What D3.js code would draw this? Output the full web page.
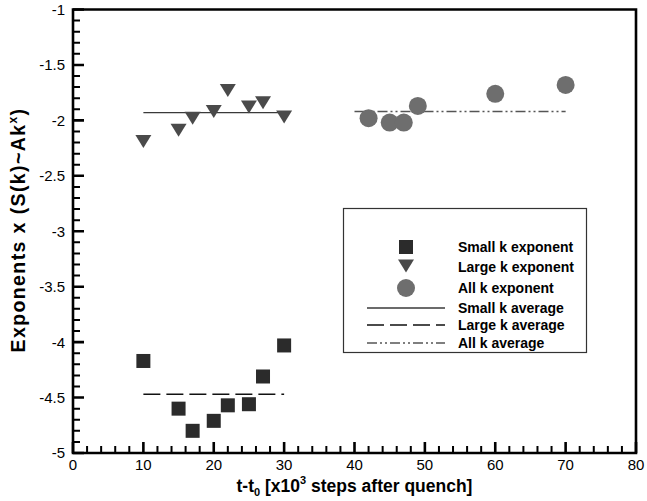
<!DOCTYPE html>
<html>
<head>
<meta charset="utf-8">
<script src="https://cdn.jsdelivr.net/npm/d3@7"></script>
<style>
  html, body { margin: 0; padding: 0; background: #fff; }
  svg { display: block; font-family: "Liberation Sans", Arial, sans-serif; }
</style>
</head>
<body>
<svg id="chart" width="647" height="501"></svg>
<script>
// Time after quench (x10^3 steps) and fitted exponents
const smallT = [10, 15, 17, 20, 22, 25, 27, 30];
const smallExp = [-4.17, -4.60, -4.80, -4.71, -4.57, -4.56, -4.31, -4.03];
const largeT = [10, 15, 17, 20, 22, 25, 27, 30];
const largeExp = [-2.19, -2.09, -1.98, -1.92, -1.73, -1.88, -1.84, -1.97];
const allT = [42, 45, 47, 49, 60, 70];
const allExp = [-1.98, -2.02, -2.02, -1.87, -1.76, -1.68];

// Average lines: [tStart, tEnd, value]
const smallAvg = [10, 30, -1.93];
const largeAvg = [10, 30, -4.47];
const allAvg = [40, 70, -1.92];

const xTicks = [0, 10, 20, 30, 40, 50, 60, 70, 80];
const yTicks = [-5, -4.5, -4, -3.5, -3, -2.5, -2, -1.5, -1];

const legendLabels = ["Small k exponent", "Large k exponent", "All k exponent",
                      "Small k average", "Large k average", "All k average"];

const svg = d3.select("#chart");
const x = d3.scaleLinear().domain([0, 80]).range([73, 636]);
const y = d3.scaleLinear().domain([-5, -1]).range([453, 9.5]);

const cSquare = "#2b2b2b", cTri = "#4a4a4a", cCircle = "#6e6e6e";

const x0 = x(0), x1 = x(80), yTop = y(-1), yBot = y(-5);

// Minor tick positions
const xMinor = d3.range(0, 41).map(i => i * 2).filter(v => v % 10 !== 0);
const yMinor = d3.range(0, 41).filter(i => i % 5 !== 0).map(i => -5 + i * 0.1);

// Axes: inward tick marks built as one path per axis
const tickPath = d3.path();
xMinor.forEach(v => { tickPath.moveTo(x(v), yBot); tickPath.lineTo(x(v), yBot - 7); });
yMinor.forEach(v => { tickPath.moveTo(x0, y(v)); tickPath.lineTo(x0 + 7, y(v)); });
svg.append("path").attr("d", tickPath.toString())
  .attr("fill", "none").attr("stroke", "#000").attr("stroke-width", 2);

const majorPath = d3.path();
xTicks.forEach(v => { majorPath.moveTo(x(v), yBot); majorPath.lineTo(x(v), yBot - 11); });
yTicks.forEach(v => { majorPath.moveTo(x0, y(v)); majorPath.lineTo(x0 + 11, y(v)); });
svg.append("path").attr("d", majorPath.toString())
  .attr("fill", "none").attr("stroke", "#000").attr("stroke-width", 2.6);

// Plot frame
const framePath = d3.path();
framePath.rect(x0, yTop, x1 - x0, yBot - yTop);
svg.append("path").attr("d", framePath.toString())
  .attr("fill", "none").attr("stroke", "#000").attr("stroke-width", 2.6);

// Tick labels
svg.append("g").selectAll("text").data(xTicks).join("text")
  .attr("x", d => x(d)).attr("y", yBot + 17)
  .attr("text-anchor", "middle").attr("font-size", 15).attr("fill", "#000")
  .text(d => String(d));
svg.append("g").selectAll("text").data(yTicks).join("text")
  .attr("x", x0 - 8).attr("y", d => y(d)).attr("dy", "0.36em")
  .attr("text-anchor", "end").attr("font-size", 15).attr("fill", "#000")
  .text(d => String(d));

// Average lines
const lineStyles = [
  { avg: smallAvg, color: "#3a3a3a", dash: null },
  { avg: largeAvg, color: "#111", dash: "17,6" },
  { avg: allAvg, color: "#555", dash: "10,3,2,3,2,3" }
];
lineStyles.forEach(s => {
  svg.append("line")
    .attr("x1", x(s.avg[0])).attr("x2", x(s.avg[1]))
    .attr("y1", y(s.avg[2])).attr("y2", y(s.avg[2]))
    .attr("stroke", s.color).attr("stroke-width", 1.4)
    .attr("stroke-dasharray", s.dash);
});

// Markers
const triPath = "M-8,-6.5L8,-6.5L0,6.5Z";
svg.append("g").selectAll("rect").data(smallT.map((t, i) => [t, smallExp[i]]))
  .join("rect")
  .attr("x", d => x(d[0]) - 7).attr("y", d => y(d[1]) - 7)
  .attr("width", 14).attr("height", 14).attr("fill", cSquare);
svg.append("g").selectAll("path").data(largeT.map((t, i) => [t, largeExp[i]]))
  .join("path")
  .attr("d", triPath)
  .attr("transform", d => `translate(${x(d[0])},${y(d[1])})`)
  .attr("fill", cTri);
svg.append("g").selectAll("circle").data(allT.map((t, i) => [t, allExp[i]]))
  .join("circle")
  .attr("cx", d => x(d[0])).attr("cy", d => y(d[1]))
  .attr("r", 9).attr("fill", cCircle);

// Axis titles
const xt = svg.append("text")
  .attr("x", (x0 + x1) / 2).attr("y", 492)
  .attr("text-anchor", "middle").attr("font-size", 17.5).attr("font-weight", "bold");
xt.append("tspan").text("t-t");
xt.append("tspan").attr("font-size", 11).attr("dy", 4).text("0");
xt.append("tspan").attr("dy", -4).text(" [x10");
xt.append("tspan").attr("font-size", 11).attr("dy", -8).text("3");
xt.append("tspan").attr("dy", 8).text(" steps after quench]");

const yt = svg.append("text")
  .attr("transform", `translate(25,230) rotate(-90)`)
  .attr("text-anchor", "middle").attr("font-size", 19.5).attr("font-weight", "bold")
  .attr("letter-spacing", 1.4);
yt.append("tspan").text("Exponents x (S(k)~Ak");
yt.append("tspan").attr("font-size", 12).attr("dy", -8).text("x");
yt.append("tspan").attr("dy", 8).text(")");

// Legend
const lg = svg.append("g");
lg.append("rect").attr("x", 343.5).attr("y", 208.5).attr("width", 243).attr("height", 144)
  .attr("fill", "#fff").attr("stroke", "#333").attr("stroke-width", 1.2);
const rowY = [247, 267, 288, 308, 325, 343];
const mx = 406;
lg.append("rect").attr("x", mx - 7).attr("y", rowY[0] - 7).attr("width", 14).attr("height", 14).attr("fill", cSquare);
lg.append("path").attr("d", triPath).attr("transform", `translate(${mx},${rowY[1] - 1})`).attr("fill", cTri);
lg.append("circle").attr("cx", mx).attr("cy", rowY[2]).attr("r", 9).attr("fill", cCircle);
lineStyles.forEach((s, i) => {
  lg.append("line").attr("x1", 367).attr("x2", 445)
    .attr("y1", rowY[3 + i]).attr("y2", rowY[3 + i])
    .attr("stroke", s.color).attr("stroke-width", 1.4)
    .attr("stroke-dasharray", s.dash);
});
lg.selectAll("text.lab").data(legendLabels).join("text")
  .attr("class", "lab")
  .attr("x", 458).attr("y", (d, i) => rowY[i]).attr("dy", "0.36em")
  .attr("font-size", 14).attr("font-weight", "bold").text(d => d);
</script>
</body>
</html>
